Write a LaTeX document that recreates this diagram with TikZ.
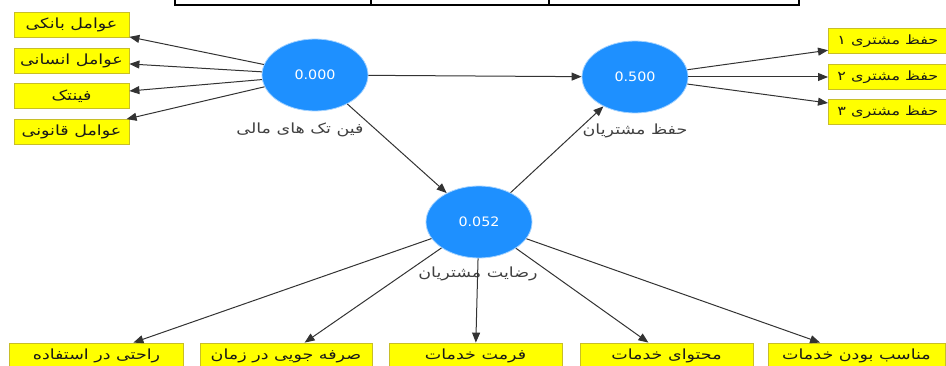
\documentclass[tikz,border=0pt]{standalone}
\usepackage{fontspec}
\setmainfont{DejaVu Sans}
\newfontfamily\arabicfont[Script=Arabic, FakeStretch=1.25]{DejaVu Sans}
\newfontfamily\numfont[FakeStretch=1.1]{DejaVu Sans}
\TeXXeTstate=1
\usetikzlibrary{arrows.meta,shapes.geometric}
\newcommand{\fa}[1]{{\arabicfont\beginR #1\endR}}
\definecolor{boxfill}{RGB}{255,255,0}
\definecolor{boxborder}{RGB}{200,190,40}
\definecolor{latblue}{RGB}{30,144,255}
\begin{document}
\begin{tikzpicture}[x=1pt,y=-1pt,
  ind/.style={draw=boxborder, fill=boxfill, line width=0.8pt, minimum height=25pt, inner xsep=6pt, inner ysep=0pt, font=\fontsize{14}{15}\selectfont, text=black!90},
  indr/.style={ind, anchor=west, inner xsep=9pt, font=\fontsize{12.8}{14}\selectfont},
  lat/.style={ellipse, fill=latblue, draw=latblue!40, line width=0.8pt, inner sep=0pt, minimum width=106pt, minimum height=72pt, text=white, font=\numfont\fontsize{13}{15}\selectfont},
  lbl/.style={font=\fontsize{14}{15}\selectfont, text=black!75},
  arr/.style={draw=black!80, line width=1pt, -{Triangle[length=10pt,width=8pt]}},
  tbl/.style={line width=1.4pt}]
\useasboundingbox (0,0) rectangle (946,366);
% table fragment at top
\draw[tbl] (175,-3) -- (175,5) -- (799,5) -- (799,-3);
\draw[tbl] (371,-3) -- (371,5);
\draw[tbl] (549,-3) -- (549,5);
% latent variables
\node[lat] (fin) at (315,75) {0.000};
\node[lat] (hef) at (635,77) {0.500};
\node[lat] (rez) at (479,222) {0.052};
\node[lbl] (finl) at (300,130) {\fa{فین تک های مالی}};
\node[lbl] (hefl) at (635,131) {\fa{حفظ مشتریان}};
\node[lbl] (rezl) at (478,274) {\fa{رضایت مشتریان}};
% left indicators
\node[ind, minimum width=115pt] (l1) at (71.5,25) {\fa{عوامل بانکی}};
\node[ind, minimum width=115pt] (l2) at (71.5,60.5) {\fa{عوامل انسانی}};
\node[ind, minimum width=115pt] (l3) at (71.5,96) {\fa{فینتک}};
\node[ind, minimum width=115pt] (l4) at (71.5,132) {\fa{عوامل قانونی}};
% right indicators
\node[indr] (r1) at (828,41) {\makebox[115pt][l]{\fa{حفظ مشتری ۱}}};
\node[indr] (r2) at (828,77) {\makebox[115pt][l]{\fa{حفظ مشتری ۲}}};
\node[indr] (r3) at (828,112) {\makebox[115pt][l]{\fa{حفظ مشتری ۳}}};
% bottom indicators
\node[ind, minimum width=174pt] (b1) at (96.5,355.5) {\fa{راحتی در استفاده}};
\node[ind, minimum width=172pt] (b2) at (286,355.5) {\fa{صرفه جویی در زمان}};
\node[ind, minimum width=173pt] (b3) at (475.5,355.5) {\fa{فرمت خدمات}};
\node[ind, minimum width=173pt] (b4) at (666.5,355.5) {\fa{محتوای خدمات}};
\node[ind, minimum width=177pt] (b5) at (856.5,355.5) {\fa{مناسب بودن خدمات}};
% connectors
\foreach \t in {l1,l2,l3,l4} \draw[arr] (fin) -- (\t);
\foreach \t in {r1,r2,r3} \draw[arr] (hef) -- (\t);
\foreach \t in {b1,b2,b3,b4,b5} \draw[arr] (rez) -- (\t);
\draw[arr] (fin) -- (hef);
\draw[arr] (fin) -- (rez);
\draw[arr] (rez) -- (hef);
\end{tikzpicture}
\end{document}
